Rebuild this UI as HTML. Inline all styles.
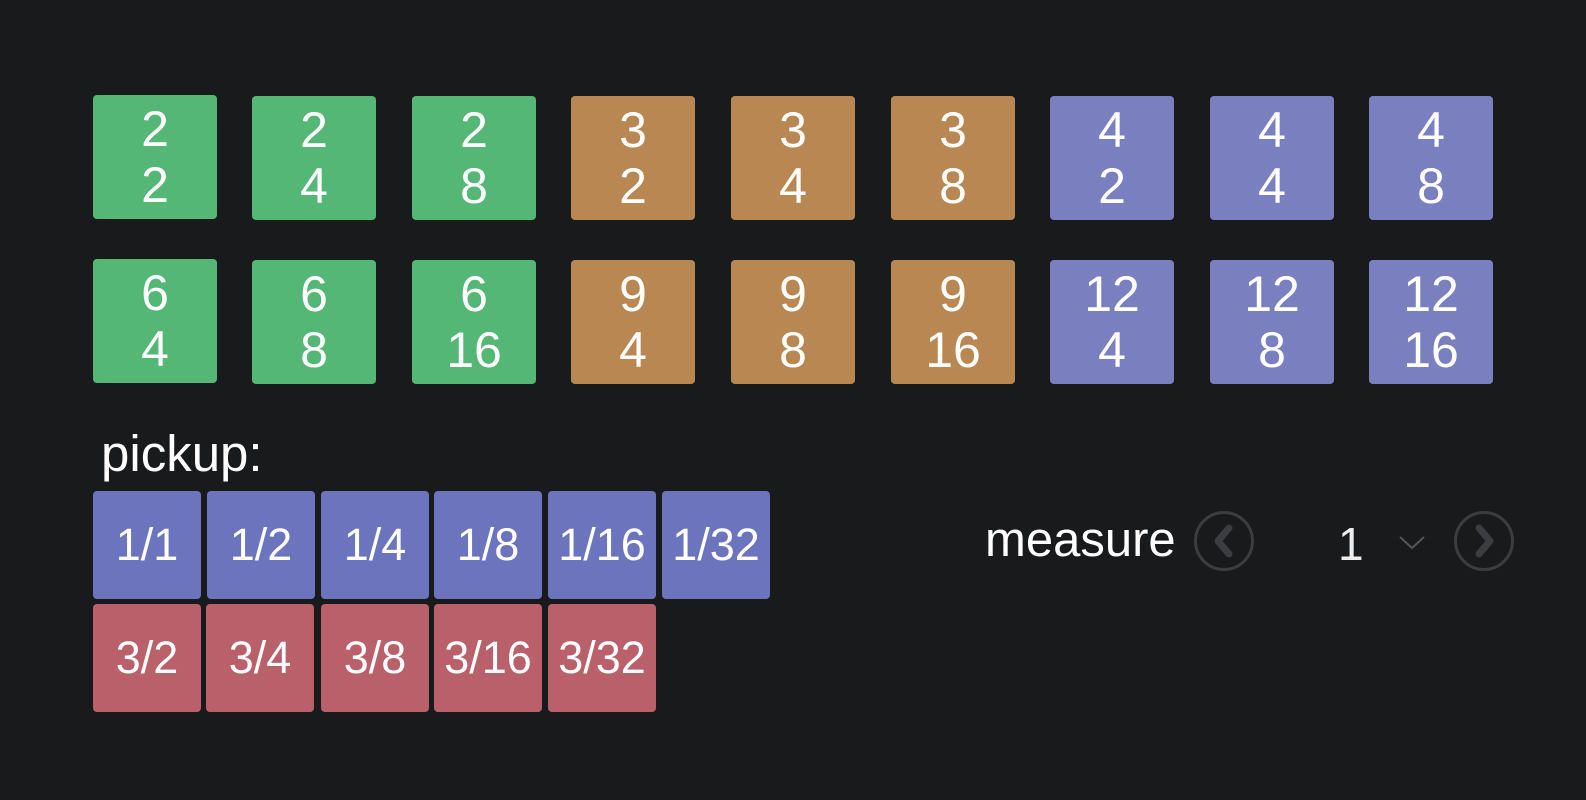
<!DOCTYPE html>
<html><head><style>
body{margin:0;width:1586px;height:800px;background:#191a1c;font-family:"Liberation Sans",sans-serif;position:relative;overflow:hidden;color:#fff}
.b{position:absolute;width:124px;height:124px;border-radius:4px;text-align:center;font-size:50px;line-height:56px;box-sizing:border-box;padding-top:6px}
.g{background:#55b776}.o{background:#b88752}.p{background:#7a7fbf}
.s{position:absolute;width:108px;height:108px;border-radius:4px;text-align:center;font-size:45px;line-height:108px}
.bl{background:#6c74bd}.rd{background:#b9606b}
.c{position:absolute;width:54px;height:54px;border:3px solid #3c3d40;border-radius:50%}
</style></head><body>
<div class="b g" style="left:93px;top:95px">2<br>2</div>
<div class="b g" style="left:252px;top:96px">2<br>4</div>
<div class="b g" style="left:412px;top:96px">2<br>8</div>
<div class="b o" style="left:571px;top:96px">3<br>2</div>
<div class="b o" style="left:731px;top:96px">3<br>4</div>
<div class="b o" style="left:891px;top:96px">3<br>8</div>
<div class="b p" style="left:1050px;top:96px">4<br>2</div>
<div class="b p" style="left:1210px;top:96px">4<br>4</div>
<div class="b p" style="left:1369px;top:96px">4<br>8</div>
<div class="b g" style="left:93px;top:259px">6<br>4</div>
<div class="b g" style="left:252px;top:260px">6<br>8</div>
<div class="b g" style="left:412px;top:260px">6<br>16</div>
<div class="b o" style="left:571px;top:260px">9<br>4</div>
<div class="b o" style="left:731px;top:260px">9<br>8</div>
<div class="b o" style="left:891px;top:260px">9<br>16</div>
<div class="b p" style="left:1050px;top:260px">12<br>4</div>
<div class="b p" style="left:1210px;top:260px">12<br>8</div>
<div class="b p" style="left:1369px;top:260px">12<br>16</div>
<div style="position:absolute;left:101px;top:424px;font-size:51px;line-height:60px">pickup:</div>
<div class="s bl" style="left:93px;top:491px">1/1</div>
<div class="s bl" style="left:207px;top:491px">1/2</div>
<div class="s bl" style="left:321px;top:491px">1/4</div>
<div class="s bl" style="left:434px;top:491px">1/8</div>
<div class="s bl" style="left:548px;top:491px">1/16</div>
<div class="s bl" style="left:662px;top:491px">1/32</div>
<div class="s rd" style="left:93px;top:604px">3/2</div>
<div class="s rd" style="left:206px;top:604px">3/4</div>
<div class="s rd" style="left:321px;top:604px">3/8</div>
<div class="s rd" style="left:434px;top:604px">3/16</div>
<div class="s rd" style="left:548px;top:604px">3/32</div>
<div style="position:absolute;left:985px;top:512px;font-size:49px;line-height:56px">measure</div>
<div class="c" style="left:1194px;top:511px"></div>
<svg style="position:absolute;left:1194px;top:511px" width="60" height="60"><path d="M35 17 L24 30 L35 43" stroke="#3c3d40" stroke-width="7" fill="none" stroke-linecap="round" stroke-linejoin="round"/></svg>
<div style="position:absolute;left:1338px;top:516px;font-size:46px;line-height:56px;color:#eee">1</div>
<svg style="position:absolute;left:1398px;top:535px" width="28" height="16"><path d="M2 2 L14 13 L26 2" stroke="#555" stroke-width="2" fill="none"/></svg>
<div class="c" style="left:1454px;top:511px"></div>
<svg style="position:absolute;left:1454px;top:511px" width="60" height="60"><path d="M25 17 L36 30 L25 43" stroke="#3c3d40" stroke-width="7" fill="none" stroke-linecap="round" stroke-linejoin="round"/></svg>
</body></html>
